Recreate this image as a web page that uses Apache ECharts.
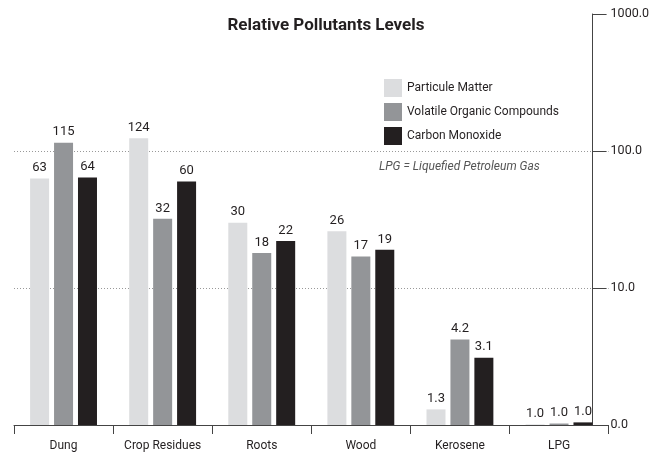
<!DOCTYPE html>
<html><head><meta charset="utf-8">
<script src="https://cdn.jsdelivr.net/npm/echarts@6/dist/echarts.min.js"></script>
<style>html,body{margin:0;padding:0;background:#fff}#c{width:652px;height:453px}</style>
</head><body><div id="c"></div>
<script>
const categories = ['Dung', 'Crop Residues', 'Roots', 'Wood', 'Kerosene', 'LPG'];
const seriesNames = ['Particule Matter', 'Volatile Organic Compounds', 'Carbon Monoxide'];
const particuleMatter = [63, 124, 30, 26, 1.3, 1.01];
const volatileOrganic = [115, 32, 18, 17, 4.2, 1.025];
const carbonMonoxide = [64, 60, 22, 19, 3.1, 1.045];
const yTicks = [1, 10, 100, 1000];
const yTickLabels = ['0.0', '10.0', '100.0', '1000.0'];
const colors = ['#dcdddf', '#939598', '#231f20'];

const FONT = "Roboto, 'Liberation Sans', sans-serif";
const chart = echarts.init(document.getElementById('c'), null, {renderer: 'canvas'});
const fmt = p => p.value >= 10 ? String(Math.round(p.value)) : p.value.toFixed(1);
const mk = (name, data, color) => ({
  name, type: 'bar', data, barWidth: 19, barGap: '26%',
  itemStyle: {color},
  label: {show: true, position: 'top', distance: 4, fontSize: 13, color: '#231f20', fontFamily: FONT, formatter: fmt}
});
chart.setOption({
  animation: false,
  backgroundColor: '#fff',
  textStyle: {fontFamily: FONT},
  title: {text: 'Relative Pollutants Levels', left: 'center', top: 12,
    textStyle: {fontSize: 17, fontWeight: 'bold', color: '#231f20', fontFamily: FONT}},
  legend: {orient: 'vertical', left: 379, top: 74, itemWidth: 18, itemHeight: 18, itemGap: 6,
    icon: 'rect', data: seriesNames,
    textStyle: {fontSize: 12, color: '#231f20', fontFamily: FONT}},
  grid: {left: 14, right: 38, top: 14, bottom: 28},
  xAxis: {type: 'category', data: categories,
    axisLine: {lineStyle: {color: '#444', width: 1}},
    axisTick: {show: true, length: 9, interval: 0, lineStyle: {color: '#444'}},
    axisLabel: {margin: 15, fontSize: 12, color: '#231f20', fontFamily: FONT, interval: 0}},
  yAxis: {type: 'log', logBase: 10, min: 1, max: 1000, position: 'right', offset: -16,
    axisLine: {show: true, lineStyle: {color: '#444', width: 1}},
    axisTick: {show: true, length: 14, lineStyle: {color: '#444'}},
    axisLabel: {margin: 18, fontSize: 12.5, color: '#231f20', fontFamily: FONT,
      formatter: v => { const i = yTicks.findIndex(t => Math.abs(t - v) < 1e-6 * t); return i >= 0 ? yTickLabels[i] : ''; }},
    splitLine: {show: true, showMinLine: false, showMaxLine: false, lineStyle: {color: '#999', type: [1, 2], width: 1}}},
  graphic: [{type: 'text', left: 379, top: 161,
    style: {text: 'LPG = Liquefied Petroleum Gas', fontSize: 12, fontStyle: 'italic', fill: '#555', fontFamily: FONT}}],
  series: [
    mk(seriesNames[0], particuleMatter, colors[0]),
    mk(seriesNames[1], volatileOrganic, colors[1]),
    mk(seriesNames[2], carbonMonoxide, colors[2])
  ]
});
</script></body></html>
